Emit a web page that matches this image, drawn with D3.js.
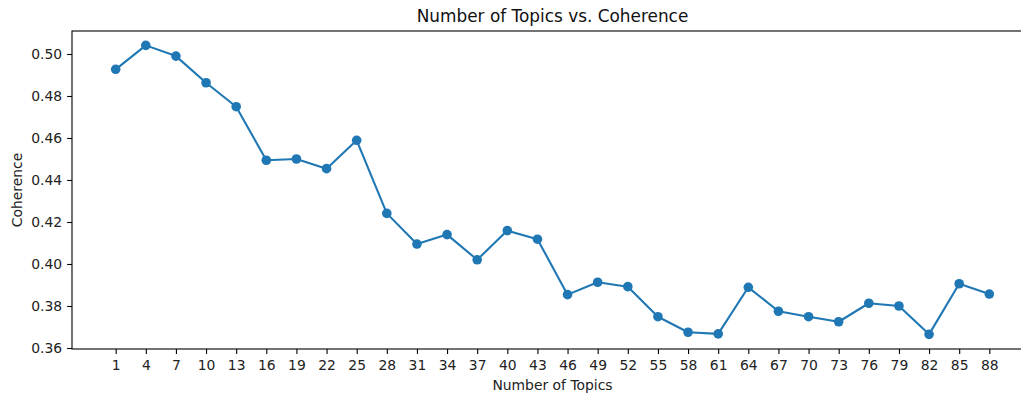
<!DOCTYPE html>
<html>
<head>
<meta charset="utf-8">
<script src="https://cdn.jsdelivr.net/npm/d3@7"></script>
<style>
  body { margin: 0; background: #fff; }
  svg { display: block; font-family: "DejaVu Sans", sans-serif; }
  .axis path, .axis line { stroke: #000; stroke-width: 1.1px; }
  .axis text { fill: #222; font-size: 13.9px; font-family: "DejaVu Sans", sans-serif; }
</style>
</head>
<body>
<svg width="1021" height="393"></svg>
<script>
var topics = [1, 4, 7, 10, 13, 16, 19, 22, 25, 28,
              31, 34, 37, 40, 43, 46, 49, 52, 55, 58,
              61, 64, 67, 70, 73, 76, 79, 82, 85, 88];
var coherence = [0.4927, 0.5041, 0.4990, 0.4863, 0.4749, 0.4494, 0.4500, 0.4454, 0.4589, 0.4241,
                 0.4095, 0.4140, 0.4020, 0.4159, 0.4118, 0.3854, 0.3913, 0.3892, 0.3749, 0.3675,
                 0.3667, 0.3889, 0.3775, 0.3749, 0.3725, 0.3813, 0.3800, 0.3665, 0.3906, 0.3857];
var yTicks = [0.36, 0.38, 0.40, 0.42, 0.44, 0.46, 0.48, 0.50];

var svg = d3.select("svg"),
    margin = {top: 31, left: 72},
    width = 961,   // right spine falls just outside the picture
    height = 318;

var data = topics.map(function(t, i) { return {topic: t, value: coherence[i]}; });

var x = d3.scaleLinear().domain([-3.35, 92.35]).range([0, width]),
    y = d3.scaleLinear().domain([0.35952, 0.51095]).range([height, 0]);

var g = svg.append("g")
    .attr("transform", "translate(" + margin.left + "," + margin.top + ")");

// x axis
var xg = g.append("g")
    .attr("class", "axis")
    .attr("transform", "translate(0," + height + ")")
    .call(d3.axisBottom(x).tickValues(topics).tickSize(4.9).tickSizeOuter(0).tickPadding(6.5));
xg.select(".domain").remove();

// y axis
var yg = g.append("g")
    .attr("class", "axis")
    .call(d3.axisLeft(y).tickValues(yTicks).tickFormat(d3.format(".2f")).tickSize(4.9).tickSizeOuter(0).tickPadding(5));
yg.select(".domain").remove();

// frame (spines)
g.append("rect")
    .attr("x", 0).attr("y", 0)
    .attr("width", width).attr("height", height)
    .attr("fill", "none")
    .attr("stroke", "#000")
    .attr("stroke-width", 1.1);

var line = d3.line()
    .x(function(d) { return x(d.topic); })
    .y(function(d) { return y(d.value); });

g.append("path")
    .datum(data)
    .attr("fill", "none")
    .attr("stroke", "#1f77b4")
    .attr("stroke-width", 2.1)
    .attr("stroke-linejoin", "round")
    .attr("d", line);

g.selectAll(".dot")
    .data(data)
  .enter().append("circle")
    .attr("class", "dot")
    .attr("cx", function(d) { return x(d.topic); })
    .attr("cy", function(d) { return y(d.value); })
    .attr("r", 4.8)
    .attr("fill", "#1f77b4");

// title and labels
svg.append("text")
    .attr("x", margin.left + width / 2)
    .attr("y", 22)
    .attr("text-anchor", "middle")
    .attr("font-size", "16.9px")
    .attr("fill", "#111")
    .text("Number of Topics vs. Coherence");

svg.append("text")
    .attr("x", margin.left + width / 2)
    .attr("y", 390)
    .attr("text-anchor", "middle")
    .attr("font-size", "13.9px")
    .attr("fill", "#222")
    .text("Number of Topics");

svg.append("text")
    .attr("transform", "translate(21.5," + (margin.top + height / 2) + ") rotate(-90)")
    .attr("text-anchor", "middle")
    .attr("font-size", "13.9px")
    .attr("fill", "#222")
    .text("Coherence");
</script>
</body>
</html>
